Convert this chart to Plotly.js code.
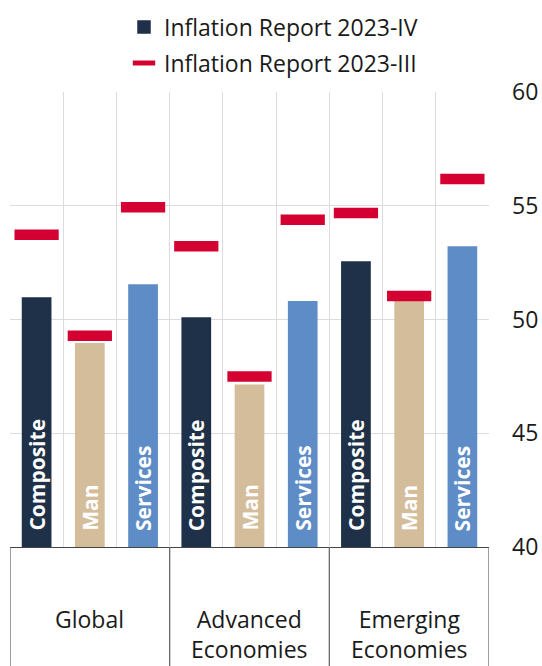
<!DOCTYPE html>
<html>
<head>
<meta charset="utf-8">
<script src="https://cdn.plot.ly/plotly-3.0.1.min.js"></script>
<style>
  html, body { margin: 0; padding: 0; background: #ffffff; }
  #chart { width: 542px; height: 666px; }
</style>
</head>
<body>
<div id="chart"></div>
<script>
// ---- data ----
const regions = ["Global", "Advanced<br>Economies", "Emerging<br>Economies"];
const sectors = ["Composite", "Man", "Services"];
const report2023IV = [50.94, 48.93, 51.52, 50.07, 47.11, 50.78, 52.53, 50.82, 53.19];
const report2023III = [53.73, 49.29, 54.93, 53.22, 47.49, 54.39, 54.68, 51.03, 56.18];
const yTicks = [40, 45, 50, 55, 60];
const seriesNames = ["Inflation Report 2023-IV", "Inflation Report 2023-III"];

// ---- styles ----
const sectorColors = ["#1e3148", "#d4bd9b", "#5e8cc7"];
const redColor = "#d40032";
const FONT = "Open Sans, Liberation Sans, sans-serif";

// bar positions (one slot per region/sector pair)
const xPos = [];
const barColors = [];
const barLabels = [];
regions.forEach((r, i) => {
  sectors.forEach((s, j) => {
    xPos.push(i * sectors.length + j);
    barColors.push(sectorColors[j]);
    barLabels.push(s);
  });
});
const nSlots = xPos.length;

const traceBars = {
  type: "bar",
  name: seriesNames[0],
  legendgroup: "a",
  x: xPos,
  y: report2023IV,
  width: 0.53,
  marker: { color: barColors, line: { color: barColors, width: 1.5 } },
  hoverinfo: "skip"
};

const traceDash = {
  type: "scatter",
  mode: "markers",
  name: seriesNames[1],
  legendgroup: "b",
  x: xPos,
  y: report2023III,
  marker: {
    symbol: "line-ew",
    size: 31.6,
    color: redColor,
    line: { color: redColor, width: 10.5 }
  },
  hoverinfo: "skip"
};

const annotations = [];
// labels inside bars
xPos.forEach((xv, k) => {
  annotations.push({
    x: xv, xref: "x",
    y: yTicks[0], yref: "y",
    text: barLabels[k],
    textangle: -90,
    showarrow: false,
    xanchor: "center", yanchor: "bottom",
    yshift: 14,
    font: { family: FONT, size: 21, weight: 700, color: "#ffffff" }
  });
});
// group labels
regions.forEach((r, i) => {
  annotations.push({
    x: i * sectors.length + (sectors.length - 1) / 2, xref: "x",
    y: -0.119, yref: "paper",
    text: r,
    showarrow: false,
    xanchor: "center", yanchor: "top",
    font: { family: FONT, size: 23, color: "#1a1a1a" }
  });
});

// group divider lines below the axis
const shapes = [];
for (let i = 0; i <= regions.length; i++) {
  shapes.push({
    type: "line", xref: "x", yref: "paper",
    x0: i * sectors.length - 0.5, x1: i * sectors.length - 0.5, y0: 0, y1: -0.3,
    line: { color: "#6a6a6a", width: 1.3 }
  });
}

const layout = {
  width: 542, height: 666,
  margin: { l: 10, r: 53, t: 92, b: 119, autoexpand: false },
  paper_bgcolor: "#ffffff",
  plot_bgcolor: "#ffffff",
  font: { family: FONT, size: 23, color: "#1a1a1a" },
  showlegend: true,
  legend: {
    orientation: "v",
    xref: "paper", yref: "paper",
    x: 0.238, y: 1.19, xanchor: "left", yanchor: "top",
    font: { family: FONT, size: 23, color: "#1a1a1a" },
    tracegroupgap: 3,
    bgcolor: "rgba(0,0,0,0)"
  },
  xaxis: {
    type: "linear",
    range: [-0.5, nSlots - 0.5],
    tick0: -0.5,
    dtick: 1,
    showgrid: true,
    gridcolor: "#dcdcdc",
    gridwidth: 1,
    showticklabels: false,
    ticks: "",
    showline: true,
    linecolor: "#444444",
    linewidth: 1,
    zeroline: false,
    fixedrange: true
  },
  yaxis: {
    side: "right",
    range: [40, 60],
    tickvals: yTicks,
    ticktext: yTicks.map(String),
    showgrid: true,
    gridcolor: "#dcdcdc",
    gridwidth: 1,
    ticks: "",
    ticklabelstandoff: 22,
    tickfont: { family: FONT, size: 23, color: "#1a1a1a" },
    zeroline: false,
    showline: false,
    automargin: false,
    fixedrange: true
  },
  barmode: "overlay",
  annotations: annotations,
  shapes: shapes
};

Plotly.newPlot("chart", [traceBars, traceDash], layout, { displayModeBar: false, staticPlot: true });
</script>
</body>
</html>
